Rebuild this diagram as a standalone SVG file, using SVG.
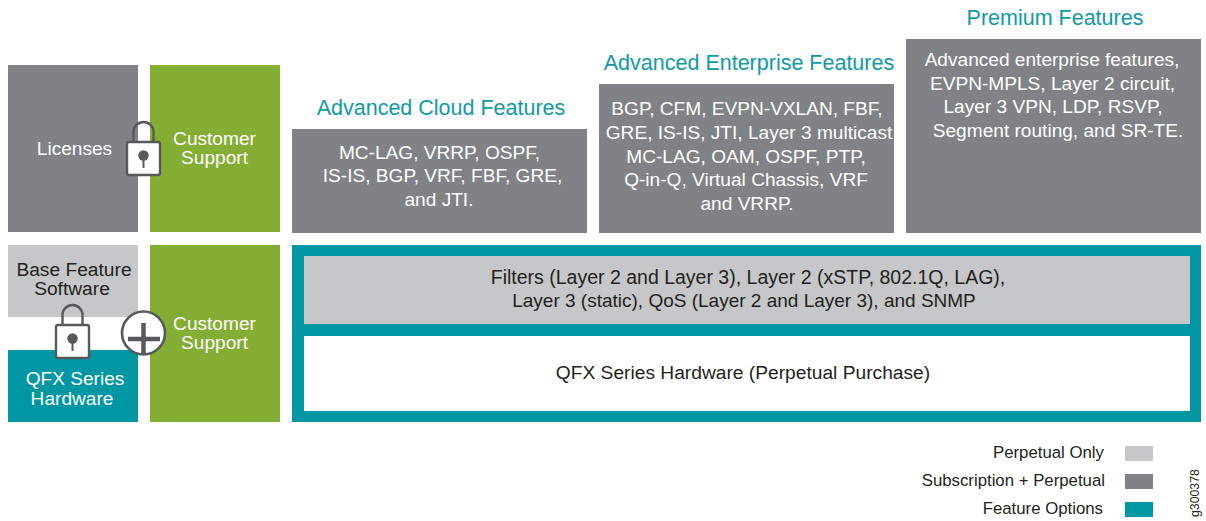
<svg xmlns="http://www.w3.org/2000/svg" width="1206" height="521" viewBox="0 0 1206 521">
<style>
text{font-family:"Liberation Sans",Arial,sans-serif;text-anchor:middle}
.w{fill:#fff;font-size:19.100px}
.k{fill:#231f20;font-size:19.200px}
.h{fill:#0f9aa5;font-size:21.500px}
.l{fill:#231f20;font-size:16.800px;text-anchor:end}
.g{fill:#808285}.t{fill:#0097a4}.s{fill:#c6c7c9}.v{fill:#83ae33}
.ls{fill:none;stroke:#58595b;stroke-width:2.400}
.lb{fill:#fff;stroke:#58595b;stroke-width:2.400}
.lk{fill:#58595b}
</style>
<defs>
<g id="lock">
<path class="ls" d="M-10 -12V-22a10 10 0 0 1 20 0V-12"/>
<rect class="lb" x="-16.500" y="-12" width="33" height="33" rx="2"/>
<circle class="lk" cx="0" cy="1.500" r="5.200"/>
<path d="M0 2V14" stroke="#58595b" stroke-width="2"/>
</g>
</defs>
<g id="connectors"/>
<g id="licenses"><rect class="g" x="8" y="65" width="130" height="167"/><text class="w" x="74.500" y="155">Licenses</text></g>
<g id="support-top"><rect class="v" x="150" y="65" width="130" height="167"/><text class="w" x="214.500" y="145">Customer</text><text class="w" x="214.500" y="164">Support</text></g>
<g id="lock-top"><use href="#lock" x="143.500" y="154"/></g>
<g id="cloud"><text class="h" x="441" y="115">Advanced Cloud Features</text><rect class="g" x="292" y="129" width="295" height="104"/>
<text class="w" x="439.500" y="159">MC-LAG, VRRP, OSPF,</text><text class="w" x="442.500" y="182">IS-IS, BGP, VRF, FBF, GRE,</text><text class="w" x="439" y="206">and JTI.</text></g>
<g id="enterprise"><text class="h" x="749" y="70">Advanced Enterprise Features</text><rect class="g" x="599" y="84" width="295" height="149"/>
<text class="w" x="747" y="115">BGP, CFM, EVPN-VXLAN, FBF,</text><text class="w" x="749" y="139">GRE, IS-IS, JTI, Layer 3 multicast</text><text class="w" x="746" y="163">MC-LAG, OAM, OSPF, PTP,</text><text class="w" x="746" y="186">Q-in-Q, Virtual Chassis, VRF</text><text class="w" x="747" y="210">and VRRP.</text></g>
<g id="premium"><text class="h" x="1055" y="25">Premium Features</text><rect class="g" x="906" y="39" width="295" height="194"/>
<text class="w" x="1052" y="66">Advanced enterprise features,</text><text class="w" x="1052.500" y="90">EVPN-MPLS, Layer 2 circuit,</text><text class="w" x="1053" y="113">Layer 3 VPN, LDP, RSVP,</text><text class="w" x="1058" y="137">Segment routing, and SR-TE.</text></g>
<g id="base"><rect class="s" x="8" y="245" width="130" height="72"/><text class="k" x="74" y="276">Base Feature</text><text class="k" x="72" y="295">Software</text></g>
<g id="hardware"><rect class="t" x="8" y="350" width="130" height="72"/><text class="w" x="75" y="385">QFX Series</text><text class="w" x="72" y="405">Hardware</text></g>
<g id="lock-bottom"><use href="#lock" x="72.500" y="337"/></g>
<g id="support-bottom"><rect class="v" x="150" y="245" width="130" height="177"/><text class="w" x="214.500" y="330">Customer</text><text class="w" x="214.500" y="349">Support</text></g>
<g id="plus"><circle cx="143.500" cy="333" r="21.500" fill="#fff" stroke="#58595b" stroke-width="2.600"/><path d="M128 339H160M143.500 323V355" fill="none" stroke="#58595b" stroke-width="4.500"/></g>
<g id="base-panel"><rect class="t" x="292" y="245" width="909" height="177"/><rect class="s" x="304" y="256" width="886" height="68"/><rect x="304" y="336" width="886" height="75" fill="#fff"/>
<text class="k" x="748" y="284" style="font-size:19.500px">Filters (Layer 2 and Layer 3), Layer 2 (xSTP, 802.1Q, LAG),</text><text class="k" x="744" y="307" style="font-size:19px">Layer 3 (static), QoS (Layer 2 and Layer 3), and SNMP</text><text class="k" x="743" y="379">QFX Series Hardware (Perpetual Purchase)</text></g>
<g id="legend"><text class="l" x="1104" y="458">Perpetual Only</text><rect class="s" x="1125" y="446" width="28" height="15"/>
<text class="l" x="1105" y="486">Subscription + Perpetual</text><rect class="g" x="1125" y="474" width="28" height="15"/>
<text class="l" x="1103" y="514">Feature Options</text><rect class="t" x="1125" y="502" width="28" height="15"/></g>
<text transform="translate(1198.500 517) rotate(-90)" x="0" y="0" style="text-anchor:start;font-size:12.300px;fill:#231f20">g300378</text>
</svg>
